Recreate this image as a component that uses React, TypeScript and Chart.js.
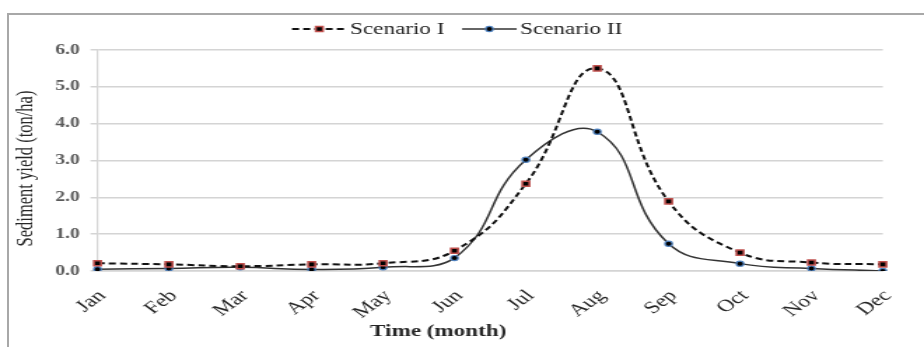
import React, { useEffect, useRef } from "react";
import { Chart, registerables } from "chart.js";

Chart.register(...registerables);

const months = ["Jan", "Feb", "Mar", "Apr", "May", "Jun", "Jul", "Aug", "Sep", "Oct", "Nov", "Dec"];
const scenarioI = [0.21, 0.18, 0.13, 0.18, 0.21, 0.55, 2.37, 5.5, 1.89, 0.5, 0.23, 0.18];
const scenarioII = [0.05, 0.07, 0.1, 0.04, 0.1, 0.35, 3.02, 3.78, 0.74, 0.2, 0.07, 0.0];
const seriesNames = ["Scenario I", "Scenario II"];
const yMin = 0;
const yMax = 6;
const yStep = 1;
const xTitle = "Time (month)";
const yTitle = "Sediment yield (ton/ha)";

// the reference picture is stretched horizontally; the canvas is drawn narrower and scaled by CSS
const STRETCH = 1.4;
const OUT_W = 924;
const OUT_H = 347;
const CW = Math.round(OUT_W / STRETCH);

const SERIF = "'Liberation Serif', 'Times New Roman', serif";

const overlayPlugin = {
  id: "overlay",
  afterDraw(chart: any) {
    const ctx = chart.ctx as CanvasRenderingContext2D;
    const area = chart.chartArea;
    ctx.save();
    // legend
    ctx.font = `16.5px ${SERIF}`;
    ctx.textBaseline = "middle";
    ctx.textAlign = "left";
    let x = 208.6;
    const ly = 29;
    chart.data.datasets.forEach((ds: any) => {
      const lineLen = 39;
      ctx.save();
      ctx.strokeStyle = ds.borderColor;
      ctx.lineWidth = ds.borderWidth;
      ctx.setLineDash(ds.borderDash || []);
      ctx.beginPath();
      ctx.moveTo(x, ly);
      ctx.lineTo(x + lineLen, ly);
      ctx.stroke();
      ctx.setLineDash([]);
      const mx = x + lineLen / 2;
      ctx.fillStyle = ds.pointBackgroundColor;
      ctx.strokeStyle = ds.pointBorderColor;
      ctx.lineWidth = ds.pointBorderWidth;
      ctx.beginPath();
      if (ds.pointStyle === "rect") {
        const s = Math.SQRT1_2 * ds.pointRadius;
        ctx.rect(mx - s, ly - s, 2 * s, 2 * s);
      } else {
        ctx.arc(mx, ly, ds.pointRadius, 0, Math.PI * 2);
      }
      ctx.fill();
      ctx.stroke();
      ctx.restore();
      ctx.fillStyle = "#222";
      const tx = x + lineLen + 2.5;
      ctx.fillText(ds.label, tx, ly + 1);
      x = tx + ctx.measureText(ds.label).width + 12.6;
    });

    // x axis title
    ctx.font = `bold 16.5px ${SERIF}`;
    ctx.textAlign = "center";
    ctx.fillStyle = "#262626";
    ctx.fillText(xTitle, 313, 332);

    // y axis title
    ctx.save();
    ctx.translate(19, (area.top + area.bottom) / 2 + 8);
    ctx.rotate(-Math.PI / 2);
    ctx.font = `16.5px ${SERIF}`;
    ctx.textAlign = "center";
    ctx.textBaseline = "middle";
    ctx.fillStyle = "#262626";
    ctx.fillText(yTitle, 0, 0);
    ctx.restore();
    ctx.restore();
  },
};

export default function App() {
  const ref = useRef<HTMLCanvasElement | null>(null);

  useEffect(() => {
    if (!ref.current) return;
    const chart = new Chart(ref.current, {
      type: "line",
      data: {
        labels: months,
        datasets: [
          {
            label: seriesNames[0],
            data: scenarioI,
            borderColor: "#111",
            borderWidth: 2,
            borderDash: [5, 3],
            pointStyle: "rect",
            pointRadius: 3.6,
            pointBackgroundColor: "#000",
            pointBorderColor: "#c0504d",
            pointBorderWidth: 1.5,
            tension: 0.45,
            fill: false,
          },
          {
            label: seriesNames[1],
            data: scenarioII,
            borderColor: "#333",
            borderWidth: 1.5,
            pointStyle: "circle",
            pointRadius: 2.6,
            pointBackgroundColor: "#000",
            pointBorderColor: "#4f81bd",
            pointBorderWidth: 1.2,
            tension: 0.45,
            fill: false,
          },
        ] as any,
      },
      options: {
        responsive: false,
        animation: false,
        devicePixelRatio: 1,
        layout: { padding: { top: 50, right: CW - 887.5 / STRETCH, left: 0, bottom: 0 } },
        plugins: {
          legend: { display: false },
          tooltip: { enabled: false },
        },
        scales: {
          x: {
            offset: false,
            grid: { display: false, drawTicks: false },
            border: { display: true, color: "#d4d4d4", width: 1.5 },
            ticks: {
              autoSkip: false,
              maxRotation: 45,
              minRotation: 45,
              padding: 15,
              labelOffset: 3.5,
              color: "#262626",
              font: { family: SERIF, size: 17 },
            },
            afterFit: (s: any) => {
              s.height = OUT_H - 271;
            },
          },
          y: {
            min: yMin,
            max: yMax,
            grid: { color: "#d4d4d4", lineWidth: 1.5, tickLength: 5, drawTicks: true },
            border: { display: true, color: "#d4d4d4", width: 1.2 },
            ticks: {
              stepSize: yStep,
              padding: 7.6,
              color: "#595959",
              font: { family: SERIF, size: 14, weight: "bold" },
              callback: (v: any) => Number(v).toFixed(1),
            },
            afterFit: (s: any) => {
              s.width = 97.5 / STRETCH;
            },
          },
        },
      },
      plugins: [overlayPlugin],
    });
    return () => chart.destroy();
  }, []);

  return (
    <div
      style={{
        position: "fixed",
        left: 0,
        top: 0,
        width: OUT_W,
        height: OUT_H,
        background: "#fff",
        overflow: "hidden",
      }}
    >
      <canvas
        ref={ref}
        width={CW}
        height={OUT_H}
        style={{ position: "absolute", left: 0, top: 0, width: OUT_W, height: OUT_H, display: "block" }}
      />
      <div
        style={{
          position: "absolute",
          left: 7,
          top: 13,
          right: 0,
          bottom: 0,
          borderTop: "2px solid #a8a8a8",
          borderLeft: "2px solid #a8a8a8",
          pointerEvents: "none",
        }}
      />
    </div>
  );
}
